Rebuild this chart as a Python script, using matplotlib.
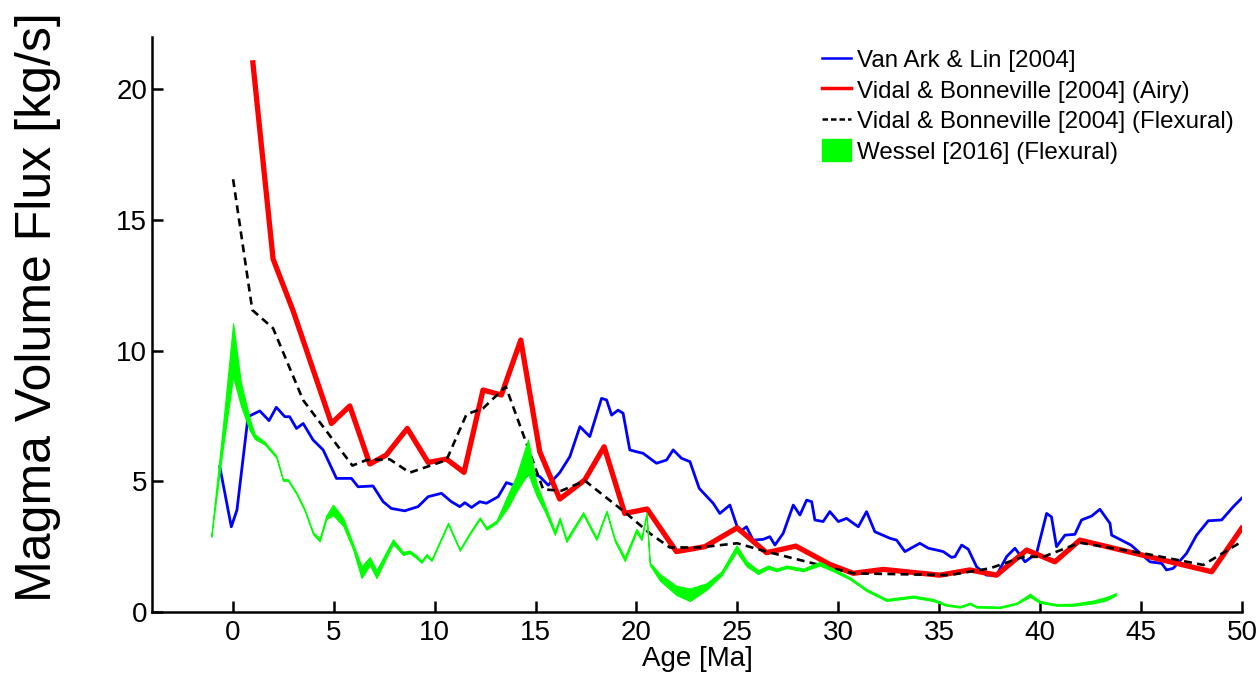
import numpy as np
from matplotlib import pyplot as plt
from matplotlib.patches import Patch
from matplotlib.lines import Line2D

plt.rcParams['font.family'] = ['Liberation Sans', 'DejaVu Sans']

# Van Ark & Lin [2004]
blue_x = [-0.64, -0.07, 0.21, 0.76, 1.34, 1.8, 2.16, 2.58, 2.82, 3.16, 3.49, 3.98, 4.48, 5.14, 5.88,
          6.21, 6.95, 7.45, 7.86, 8.52, 9.18, 9.68, 10.34, 10.83, 11.25, 11.5, 11.83, 12.24, 12.57,
          13.15, 13.56, 14.05, 14.72, 15.21, 15.63, 16.2, 16.7, 17.2, 17.69, 18.27, 18.52, 18.77,
          19.09, 19.34, 19.67, 20.0, 20.33, 20.99, 21.49, 21.82, 22.23, 22.65, 23.11, 23.8, 24.13,
          24.63, 24.99, 25.12, 25.45, 25.78, 26.28, 26.61, 26.86, 27.27, 27.77, 28.1, 28.43, 28.68,
          28.84, 29.25, 29.58, 30.0, 30.41, 30.99, 31.4, 31.81, 32.56, 32.89, 33.3, 34.04, 34.46,
          34.87, 35.2, 35.61, 35.78, 36.11, 36.44, 36.85, 37.34, 37.84, 38.34, 38.75, 39.25, 39.82,
          40.32, 40.56, 40.81, 41.23, 41.72, 42.05, 42.55, 42.96, 43.46, 43.54, 44.5, 45.44, 46.02,
          46.26, 46.59, 47.25, 47.75, 48.33, 48.99, 49.57, 49.98]
blue_y = [5.56, 3.26, 3.9, 7.47, 7.69, 7.32, 7.83, 7.47, 7.47, 7.02, 7.21, 6.58, 6.2, 5.11, 5.11,
          4.79, 4.82, 4.22, 3.96, 3.87, 4.03, 4.41, 4.54, 4.22, 4.03, 4.18, 4.0, 4.22, 4.16,
          4.41, 4.95, 4.82, 5.33, 5.18, 4.85, 5.33, 5.94, 7.09, 6.71, 8.17, 8.11, 7.53,
          7.72, 7.6, 6.2, 6.13, 6.07, 5.69, 5.81, 6.2, 5.88, 5.75, 4.73, 4.16, 3.77,
          4.09, 3.26, 3.07, 3.26, 2.75, 2.78, 2.88, 2.56, 3.01, 4.09, 3.71, 4.28, 4.22,
          3.52, 3.46, 3.84, 3.46, 3.58, 3.26, 3.84, 3.07, 2.82, 2.75, 2.31, 2.63, 2.44,
          2.37, 2.31, 2.09, 2.12, 2.56, 2.40, 1.73, 1.41, 1.41, 2.12, 2.44, 1.92, 2.24,
          3.77, 3.64, 2.50, 2.94, 2.97, 3.52, 3.67, 3.93, 3.39, 2.94, 2.56, 1.92, 1.86,
          1.61, 1.67, 2.24, 2.94, 3.49, 3.52, 4.03, 4.35]

# Vidal & Bonneville [2004] (Airy)
airy_x = [1.0, 2.0, 3.0, 4.89, 5.8, 6.79, 7.6, 8.65, 9.68, 10.59, 11.46, 12.4, 13.31, 14.27, 15.21,
          16.2, 17.44, 18.4, 19.42, 20.53, 21.98, 23.39, 24.99, 26.44, 27.9, 29.58, 30.74, 32.23,
          35.03, 36.52, 37.84, 39.33, 40.73, 41.97, 48.5, 49.98]
airy_y = [21.0, 13.5, 11.5, 7.21, 7.88, 5.66, 6.0, 7.02, 5.72, 5.85, 5.34, 8.49, 8.30, 10.40, 6.13,
          4.32, 5.05, 6.32, 3.77, 3.94, 2.31, 2.50, 3.22, 2.27, 2.52, 1.82, 1.48, 1.63,
          1.41, 1.61, 1.41, 2.37, 1.92, 2.75, 1.54, 3.2]

# Vidal & Bonneville [2004] (Flexural)
flex_x = [0.02, 0.97, 2.0, 3.49, 5.93, 6.62, 7.78, 8.77, 10.59, 11.58, 12.4, 13.53, 15.38, 16.29,
          17.45, 19.5, 20.66, 21.65, 23.14, 24.99, 26.44, 29.74, 30.74, 35.5, 37.51, 39.16, 40.15,
          41.97, 45.28, 48.08, 49.98]
flex_y = [16.55, 11.55, 10.85, 8.1, 5.6, 5.81, 5.84, 5.33, 5.81, 7.56, 7.79, 8.62, 4.69, 4.64,
          5.02, 3.77, 3.01, 2.47, 2.47, 2.63, 2.31, 1.67, 1.48, 1.41, 1.67, 2.11, 2.11,
          2.65, 2.22, 1.80, 2.69]

# Wessel [2016] (Flexural) - band
wes_x = [-1.06, -0.5, 0.02, 0.4, 0.84, 1.09, 1.59, 2.16, 2.49, 2.74, 3.16, 3.57, 3.98, 4.31, 4.64,
         4.97, 5.47, 5.96, 6.38, 6.79, 7.12, 7.94, 8.44, 8.77, 9.1, 9.35, 9.6, 9.85, 10.67, 11.25,
         11.74, 12.24, 12.57, 13.07, 13.64, 14.05, 14.63, 15.05, 15.46, 15.96, 16.2, 16.53, 17.36,
         18.02, 18.52, 18.93, 19.42, 20.0, 20.25, 20.5, 20.66, 21.16, 21.98, 22.65, 23.47, 24.21,
         24.96, 25.45, 26.03, 26.53, 26.94, 27.44, 28.26, 29.09, 29.74, 30.57, 31.4, 32.39, 33.71,
         34.7, 35.36, 36.03, 36.52, 36.85, 38.0, 38.83, 39.49, 39.98, 40.81, 41.64, 42.63, 43.29,
         43.75]
wes_lo = [2.88, 6.2, 9.0, 7.9, 6.95, 6.62, 6.4, 5.9, 5.02, 5.02, 4.5, 3.86, 2.97, 2.7, 3.55,
          3.7, 3.3, 2.4, 1.3, 1.8, 1.3, 2.6, 2.18, 2.25, 2.06, 1.88, 2.14, 1.95, 3.35, 2.34,
          2.97, 3.55, 3.15, 3.4, 4.0, 4.6, 5.3, 4.45, 3.85, 2.95, 3.5, 2.68, 3.72,
          2.75, 3.8, 2.7, 1.95, 3.05, 2.75, 3.7, 1.8, 1.2, 0.65, 0.42, 0.85, 1.4,
          2.3, 1.75, 1.45, 1.66, 1.56, 1.68, 1.56, 1.78, 1.56, 1.25, 0.8, 0.42, 0.55,
          0.42, 0.24, 0.17, 0.3, 0.17, 0.15, 0.3, 0.58, 0.35, 0.24, 0.24, 0.33, 0.45,
          0.64]
wes_hi = [2.95, 7.0, 11.04, 8.8, 7.4, 6.8, 6.5, 5.98, 5.08, 5.08, 4.57, 3.93, 3.05, 2.82, 3.7,
          4.1, 3.6, 2.6, 1.75, 2.1, 1.6, 2.78, 2.3, 2.35, 2.16, 1.96, 2.22, 2.02, 3.42, 2.4,
          3.04, 3.62, 3.24, 3.5, 4.5, 5.2, 6.6, 4.9, 4.1, 3.1, 3.62, 2.8, 3.82,
          2.85, 3.88, 2.8, 2.1, 3.18, 2.86, 3.8, 1.9, 1.45, 1.0, 0.9, 1.1, 1.55,
          2.55, 1.95, 1.6, 1.78, 1.66, 1.78, 1.66, 1.92, 1.66, 1.33, 0.88, 0.5, 0.63,
          0.5, 0.3, 0.23, 0.36, 0.23, 0.21, 0.36, 0.7, 0.43, 0.3, 0.32, 0.44, 0.58,
          0.72]

fig = plt.figure(figsize=(12.58, 6.75), dpi=100)
ax = fig.add_axes([0.1208, 0.0933, 0.8665, 0.8523])

ax.plot(blue_x, blue_y, color='#0000ff', lw=2.0, zorder=2)
ax.plot(airy_x, airy_y, color='#ff0000', lw=3.8, zorder=3)
ax.plot(flex_x, flex_y, color='black', lw=1.9, ls=(0, (3.0, 2.0)), zorder=4)
ax.fill_between(wes_x, wes_lo, wes_hi, color='#00ff00', lw=0.8, edgecolor='#00ff00', zorder=5)

ax.set_xlim(-4, 50)
ax.set_ylim(0, 22)
ax.set_xticks(np.arange(0, 51, 5))
ax.set_yticks([0, 5, 10, 15, 20])
ax.tick_params(direction='in', length=8, width=1.8, labelsize=20)
ax.tick_params(axis='y', pad=3.5)
ax.tick_params(axis='x', pad=6)
for s in ['top', 'right']:
    ax.spines[s].set_visible(False)
for s in ['left', 'bottom']:
    ax.spines[s].set_linewidth(1.8)

ax.set_xlabel('Age [Ma]', fontsize=20, labelpad=0)
ax.set_ylabel('Magma Volume Flux [kg/s]', fontsize=36)
ax.yaxis.set_label_coords(-0.083, 0.53)

handles = [Line2D([], [], color='#0000ff', lw=1.8),
           Line2D([], [], color='#ff0000', lw=2.5),
           Line2D([], [], color='black', lw=1.8, ls=(0, (2.2, 1.2))),
           Patch(facecolor='#00ff00', edgecolor='#00ff00')]
labels = ['Van Ark & Lin [2004]', 'Vidal & Bonneville [2004] (Airy)',
          'Vidal & Bonneville [2004] (Flexural)', 'Wessel [2016] (Flexural)']
ax.legend(handles, labels, loc='upper left', bbox_to_anchor=(0.601, 1.005), frameon=False,
          fontsize=17.4, handlelength=1.2, handletextpad=0.25, labelspacing=0.26,
          borderaxespad=0.2, handleheight=1.0)

fig.savefig('out.png', dpi=100)
